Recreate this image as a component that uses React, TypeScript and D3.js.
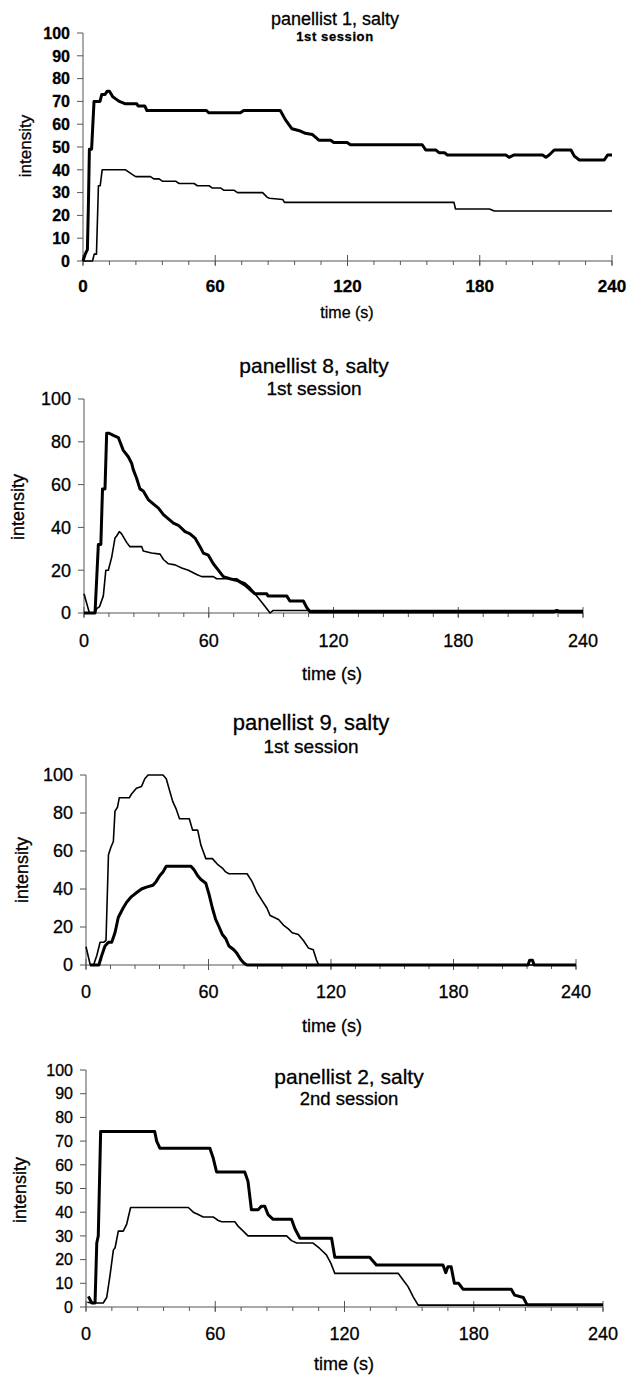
import React from "react";
import * as d3 from "d3";

type Pt = [number, number];

// time (s) ticks
const xMajorTicks = [0, 60, 120, 180, 240];
const xMinorStep = 12;
const yTicks10 = [0, 10, 20, 30, 40, 50, 60, 70, 80, 90, 100];
const yTicks20 = [0, 20, 40, 60, 80, 100];

// panellist 1, salty, 1st session
const p1Thick: Pt[] = [[0,0],[1,3],[2,5],[2.5,27],[2.9,49],[3.9,49],[5,70],[7.7,70],[8.5,73],[10,73],[11,74.5],[12,74.5],[13.5,72],[15,71],[16.5,70],[19,69],[24.4,69],[25,68],[28,68],[29,66],[56,66],[57,65],[71.4,65],[72.9,66],[89.5,66],[91.8,62],[94.8,58],[98.6,57],[100.9,56],[104,55.5],[107,53],[112.3,53],[113.8,52],[119.8,52],[121.3,51],[153.9,51],[155.5,48.7],[160,48.7],[161.5,47.5],[164,47.5],[165.3,46.5],[191.8,46.5],[193.3,45.5],[195.6,46.5],[208.5,46.5],[210,45.5],[211.5,46.5],[213.8,48.7],[221.4,48.7],[222.9,46],[225.2,44.3],[236.5,44.3],[238,46.5],[240,46.5]];
const p1Thin: Pt[] = [[0,0],[4.3,0],[5.1,3],[6.1,3],[7,33],[7.8,33],[8.7,40],[19.3,40],[20.8,39],[22.3,38],[23.9,37],[30.6,37],[32.1,36],[34.5,36],[36,35],[42,35],[43.6,34],[50.4,34],[51.9,33],[57.2,33],[58.7,32],[62.5,32],[64,31],[68.6,31],[70.1,30],[81.5,30],[83.5,28],[84.5,27.5],[90.6,27],[91.4,25.7],[168.3,25.7],[169,22.8],[184.4,22.8],[186.6,21.9],[240,21.9]];

// panellist 8, salty, 1st session
const p8Thick: Pt[] = [[0,0],[5.3,0],[6.9,32],[8.1,32],[8.9,58],[10.1,58],[10.9,84],[12.1,84],[14.1,83],[16.5,82],[17.3,80],[18.9,76],[21.3,73],[22.9,70],[23.7,67],[25.3,63],[26.9,58],[28.5,57],[30.9,53],[33.3,51],[35.8,49],[38.2,46],[40.6,44],[43,42],[45.4,41],[48.6,38],[51,37],[53.4,35],[55.8,31],[57.4,28],[59.8,27],[62.2,23],[64.6,20],[67,17],[70.2,16],[74.2,15],[77.5,13],[79.8,11],[82.2,9],[87.9,9],[88.5,8],[97.5,8],[99,5.6],[105.5,5.6],[107,2.8],[108.7,0.5],[226,0.5],[227.4,1.2],[228.8,0.5],[240,0.5]];
const p8Thin: Pt[] = [[0,9],[2.6,0],[5.3,0],[6.1,2],[7.5,3],[9.3,8],[10.5,20],[11.7,20],[13.3,26],[14.9,35],[15.7,36],[17,38],[18.1,37],[19.3,35],[20.5,33],[22.1,31],[27.8,31],[28.5,29],[32.5,28],[36.6,27.5],[38.2,25],[40.6,23],[43.8,22.5],[47,21],[50.2,20],[54.2,18],[56.6,17],[62.2,17],[63.8,16],[73.4,16],[75,15],[77.5,14],[79.8,12],[82.2,9],[84.7,6],[87.1,3],[89.5,0],[91,1.2],[240,1.2]];

// panellist 9, salty, 1st session
const p9Thick: Pt[] = [[2,0],[6.3,0],[7.7,5],[9.3,10],[11,12],[12.6,12],[14.2,17],[15.8,25],[18.2,30],[19.9,33],[22.3,36],[24.7,38],[27.2,40],[29.6,41],[32.8,42],[34.4,44],[36.1,47],[37.7,49],[39.3,52],[51.4,52],[53,50],[54.7,47],[56.3,45],[58.7,43],[60.3,37],[61.9,30],[63.5,24],[65.2,20],[66.8,16],[68.4,14],[70,10],[72.4,8],[74,6],[75.7,3],[77.3,1],[78.9,0],[216.5,0],[217.3,2.5],[218.7,2.5],[219.5,0],[240,0]];
const p9Thin: Pt[] = [[0,9.6],[2.1,0],[3.7,0],[5.3,5],[6.9,12],[8.8,12],[9.8,13],[11,58],[12.2,62],[13.4,65],[14.2,81],[15.4,83],[16.3,88],[21.2,88],[22.3,90],[24.7,93],[27.2,94],[28.8,98],[30.4,100],[37.7,100],[39.3,98],[40.9,92],[42.5,86],[44.2,82],[45.8,77],[50.6,77],[52.2,71],[54.7,71],[56.3,63],[58.7,56],[61.9,56],[64.4,53],[66.8,51],[68.4,49],[70,48],[78.9,48],[81.3,44],[83.8,38],[86.2,34],[88.6,30],[90.2,26],[94.3,24],[96.7,21],[99.1,19],[101,17],[104,16],[106.4,13],[108.9,9],[111.3,8],[112.9,2.6],[114,0],[240,0]];

// panellist 2, salty, 2nd session
const p2Thick: Pt[] = [[1.1,4.5],[2.7,1.7],[4.2,1.7],[5,27],[5.7,30],[6.8,74],[31.9,74],[32.8,70],[34.3,67],[57.5,67],[59,63],[60.6,57],[73.7,57],[75.2,53],[76.8,41],[79.9,41],[81.4,42.5],[83,42.5],[84.5,39],[86.9,37],[95.4,37],[97,33],[99.3,29],[114,29],[115.5,21],[131.7,21],[134.8,17.7],[165.7,17.7],[167,14.5],[168,17],[169.5,17],[171,10],[173,10],[175,7.5],[197.4,7.5],[199,5],[203,4],[204.7,1],[240,1]];
const p2Thin: Pt[] = [[0.6,2],[2.7,1.7],[8,1.7],[9.6,4],[11.1,13],[12.7,24],[13.5,25],[15,32],[17.3,32],[18.9,35],[20.7,42],[47.5,42],[49.8,40],[52.1,39],[54.4,38],[59,38],[61.4,36.5],[63,36],[69.1,36],[70.7,34],[73,32],[75.2,30],[93.1,30],[95.4,28],[97.8,27],[105.4,27],[108.5,24.7],[111.6,22],[113.7,18.4],[115.5,14.2],[144.9,14.2],[147.2,11.4],[149.5,8.6],[151.9,4.3],[154.2,0.8],[240,0.8]];

const titles = ["panellist 1, salty", "panellist 8, salty", "panellist 9, salty", "panellist 2, salty"];
const subtitles = ["1st session", "1st session", "1st session", "2nd session"];

interface Layout {
  left: number; right: number; top: number; bottom: number;
  yTicks: number[]; yTickFont: number; xTickFont: number; bold: boolean;
  xTickBase: number;
  titleX: number; titleY: number; titleSize: number;
  subY: number; subSize: number; subSpacing: number;
  xlabX: number; xlabY: number; xlabSize: number;
  ylabX: number; ylabY: number; ylabSize: number;
}

const layouts: Layout[] = [
  { left: 83, right: 612, top: 33, bottom: 261, yTicks: yTicks10, yTickFont: 16, xTickFont: 17, bold: true, xTickBase: 292,
    titleX: 335, titleY: 25, titleSize: 18, subY: 41, subSize: 13, subSpacing: 0.6,
    xlabX: 347, xlabY: 318, xlabSize: 16, ylabX: 25, ylabY: 146, ylabSize: 17 },
  { left: 84, right: 583, top: 399, bottom: 613, yTicks: yTicks20, yTickFont: 18, xTickFont: 18, bold: false, xTickBase: 647,
    titleX: 314, titleY: 373, titleSize: 21, subY: 395, subSize: 19, subSpacing: 0,
    xlabX: 332, xlabY: 680, xlabSize: 18, ylabX: 18, ylabY: 507, ylabSize: 18 },
  { left: 86, right: 576, top: 775, bottom: 965, yTicks: yTicks20, yTickFont: 18, xTickFont: 18, bold: false, xTickBase: 998,
    titleX: 311, titleY: 730, titleSize: 22, subY: 753, subSize: 19, subSpacing: 0,
    xlabX: 332, xlabY: 1032, xlabSize: 18, ylabX: 22, ylabY: 870, ylabSize: 18 },
  { left: 86, right: 603, top: 1070, bottom: 1307, yTicks: yTicks10, yTickFont: 16, xTickFont: 18, bold: false, xTickBase: 1340,
    titleX: 349, titleY: 1084, titleSize: 21, subY: 1105, subSize: 18.5, subSpacing: 0,
    xlabX: 344, xlabY: 1370, xlabSize: 18, ylabX: 20, ylabY: 1190, ylabSize: 18 },
];

const series: [Pt[], Pt[]][] = [
  [p1Thick, p1Thin],
  [p8Thick, p8Thin],
  [p9Thick, p9Thin],
  [p2Thick, p2Thin],
];

const FONT = "'Liberation Sans', Arial, Helvetica, sans-serif";
const AXIS = "#555";

function Panel({ i }: { i: number }) {
  const L = layouts[i];
  const x = d3.scaleLinear().domain([0, 240]).range([L.left, L.right]);
  const y = d3.scaleLinear().domain([0, 100]).range([L.bottom, L.top]);
  const line = d3.line<Pt>().x(d => x(d[0])).y(d => y(d[1]));
  const [thick, thin] = series[i];
  const minor = d3.range(0, 241, xMinorStep);
  const fw = L.bold ? "bold" : "normal";
  return (
    <g fontFamily={FONT} fill="#000" stroke="none">
      <g stroke="#000" strokeWidth={0.3}>
        <text x={L.titleX} y={L.titleY} fontSize={L.titleSize} textAnchor="middle">{titles[i]}</text>
        <text x={L.titleX} y={L.subY} fontSize={L.subSize} textAnchor="middle" letterSpacing={L.subSpacing}
          fontWeight={L.bold ? "bold" : "normal"}>{subtitles[i]}</text>
        {L.yTicks.map(t => (
          <text key={"yl" + t} x={x(0) - 13} y={y(t)} dy="0.36em" fontSize={L.yTickFont} textAnchor="end" fontWeight={fw}>{t}</text>
        ))}
        {xMajorTicks.map(t => (
          <text key={"xl" + t} x={x(t)} y={L.xTickBase} fontSize={L.xTickFont} textAnchor="middle" fontWeight={fw}>{t}</text>
        ))}
        <text x={L.xlabX} y={L.xlabY} fontSize={L.xlabSize} textAnchor="middle">time (s)</text>
        <text transform={`translate(${L.ylabX},${L.ylabY}) rotate(-90)`} fontSize={L.ylabSize} textAnchor="middle"
          dominantBaseline="central">intensity</text>
      </g>
      {/* axes */}
      <line x1={x(0)} x2={x(0)} y1={y(100)} y2={y(0)} stroke={AXIS} strokeWidth={1} />
      <line x1={x(0)} x2={x(240)} y1={y(0)} y2={y(0)} stroke={AXIS} strokeWidth={1.2} />
      {L.yTicks.map(t => (
        <line key={"y" + t} x1={x(0) - 6} x2={x(0)} y1={y(t)} y2={y(t)} stroke={AXIS} strokeWidth={1} />
      ))}
      {minor.map(t => (
        <line key={"m" + t} x1={x(t)} x2={x(t)} y1={y(0)} y2={y(0) + 4} stroke={AXIS} strokeWidth={1} />
      ))}
      {xMajorTicks.map(t => (
        <line key={"x" + t} x1={x(t)} x2={x(t)} y1={y(0) - 6} y2={y(0) + 5} stroke={AXIS} strokeWidth={1} />
      ))}
      {/* curves */}
      <path d={line(thin) || ""} fill="none" stroke="#000" strokeWidth={1.6} strokeLinejoin="round" />
      <path d={line(thick) || ""} fill="none" stroke="#000" strokeWidth={3} strokeLinejoin="round" />
    </g>
  );
}

export default function App() {
  return (
    <svg width={637} height={1378} style={{ position: "absolute", left: 0, top: 0, background: "#fff" }}>
      <rect x={0} y={0} width={637} height={1378} fill="#fff" />
      {layouts.map((_, i) => <Panel key={i} i={i} />)}
    </svg>
  );
}
